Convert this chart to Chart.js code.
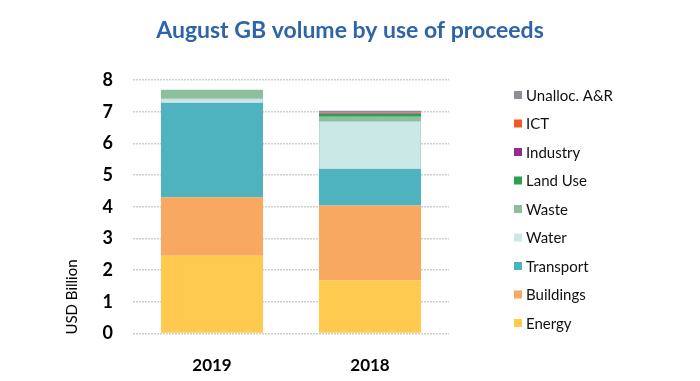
<!DOCTYPE html>
<html><head><meta charset="utf-8">
<script src="https://cdn.jsdelivr.net/npm/chart.js@4/dist/chart.umd.min.js"></script>
<style>html,body{margin:0;padding:0;background:#fff}#wrap{width:700px;height:381px;position:relative}</style>
</head><body><div id="wrap"><canvas id="c" width="700" height="381"></canvas></div>
<script>
const categories = ["2019", "2018"];
const energy    = [2.45, 1.68];
const buildings = [1.85, 2.36];
const transport = [2.98, 1.16];
const water     = [0.13, 1.51];
const waste     = [0.28, 0.13];
const landUse   = [0.00, 0.09];
const industry  = [0.00, 0.01];
const ict       = [0.00, 0.03];
const unalloc   = [0.00, 0.06];
const yTicks = [0,1,2,3,4,5,6,7,8];
const titleText = "August GB volume by use of proceeds";
const yTitle = "USD Billion";

const series = [
  {label:"Energy", data:energy, color:"#FFCA4F"},
  {label:"Buildings", data:buildings, color:"#F9A862"},
  {label:"Transport", data:transport, color:"#4FB3BF"},
  {label:"Water", data:water, color:"#C9E8E6", dotted:true},
  {label:"Waste", data:waste, color:"#8EBF9C"},
  {label:"Land Use", data:landUse, color:"#2AA150"},
  {label:"Industry", data:industry, color:"#952A8F"},
  {label:"ICT", data:ict, color:"#F15A24"},
  {label:"Unalloc. A&R", data:unalloc, color:"#8D8D99"}
];

const FONT = "Lato, 'Open Sans', 'DejaVu Sans', sans-serif";

const deco = {
  id:'deco',
  afterDraw(chart){
    const ctx = chart.ctx;
    ctx.save();
    ctx.fillStyle = "#2E64A8";
    ctx.font = "bold 23px " + FONT;
    ctx.textAlign = "center"; ctx.textBaseline = "middle";
    ctx.fillText(titleText, 350, 31);
    ctx.save();
    ctx.translate(72, 297);
    ctx.rotate(-Math.PI/2);
    ctx.fillStyle = "#000";
    ctx.font = "15px " + FONT;
    ctx.fillText(yTitle, 0, 0);
    ctx.restore();
    const ds = chart.data.datasets.slice().reverse();
    ctx.font = "15px " + FONT;
    ctx.textAlign = "left";
    ds.forEach((d, i) => {
      const y = 95 + i * 28.5;
      ctx.fillStyle = d.backgroundColor;
      ctx.fillRect(514, y - 4, 8, 8);
      ctx.fillStyle = "#111";
      ctx.fillText(d.label, 526, y + 1);
    });
    ctx.restore();
  }
};

new Chart(document.getElementById('c'), {
  type:'bar',
  data:{
    labels:categories,
    datasets:series.map(s => ({
      label:s.label, data:s.data, backgroundColor:s.color,
      borderColor: s.dotted ? "#B8D4D2" : s.color,
      borderWidth: s.dotted ? 1 : 0,
      categoryPercentage:1, barPercentage:0.646
    }))
  },
  options:{
    responsive:false, animation:false, devicePixelRatio:1,
    layout:{padding:{left:0, right:251, top:80, bottom:0}},
    plugins:{legend:{display:false}, title:{display:false}, tooltip:{enabled:false}},
    scales:{
      x:{stacked:true, grid:{display:false}, border:{display:false},
         ticks:{color:"#000", font:{family:FONT, size:17, weight:"bold"}, padding:14},
         afterFit(s){ s.height = 47.5; }},
      y:{stacked:true, min:0, max:8,
         afterBuildTicks(s){ s.ticks = yTicks.map(v => ({value:v})); },
         grid:{color:"#CFCFCF", lineWidth:1.5, drawTicks:false},
         border:{display:false, dash:[2,1]},
         ticks:{color:"#000", font:{family:FONT, size:18, weight:"bold"}, padding:20},
         afterFit(s){ s.width = 133; }}
    }
  },
  plugins:[deco]
});
</script></body></html>
